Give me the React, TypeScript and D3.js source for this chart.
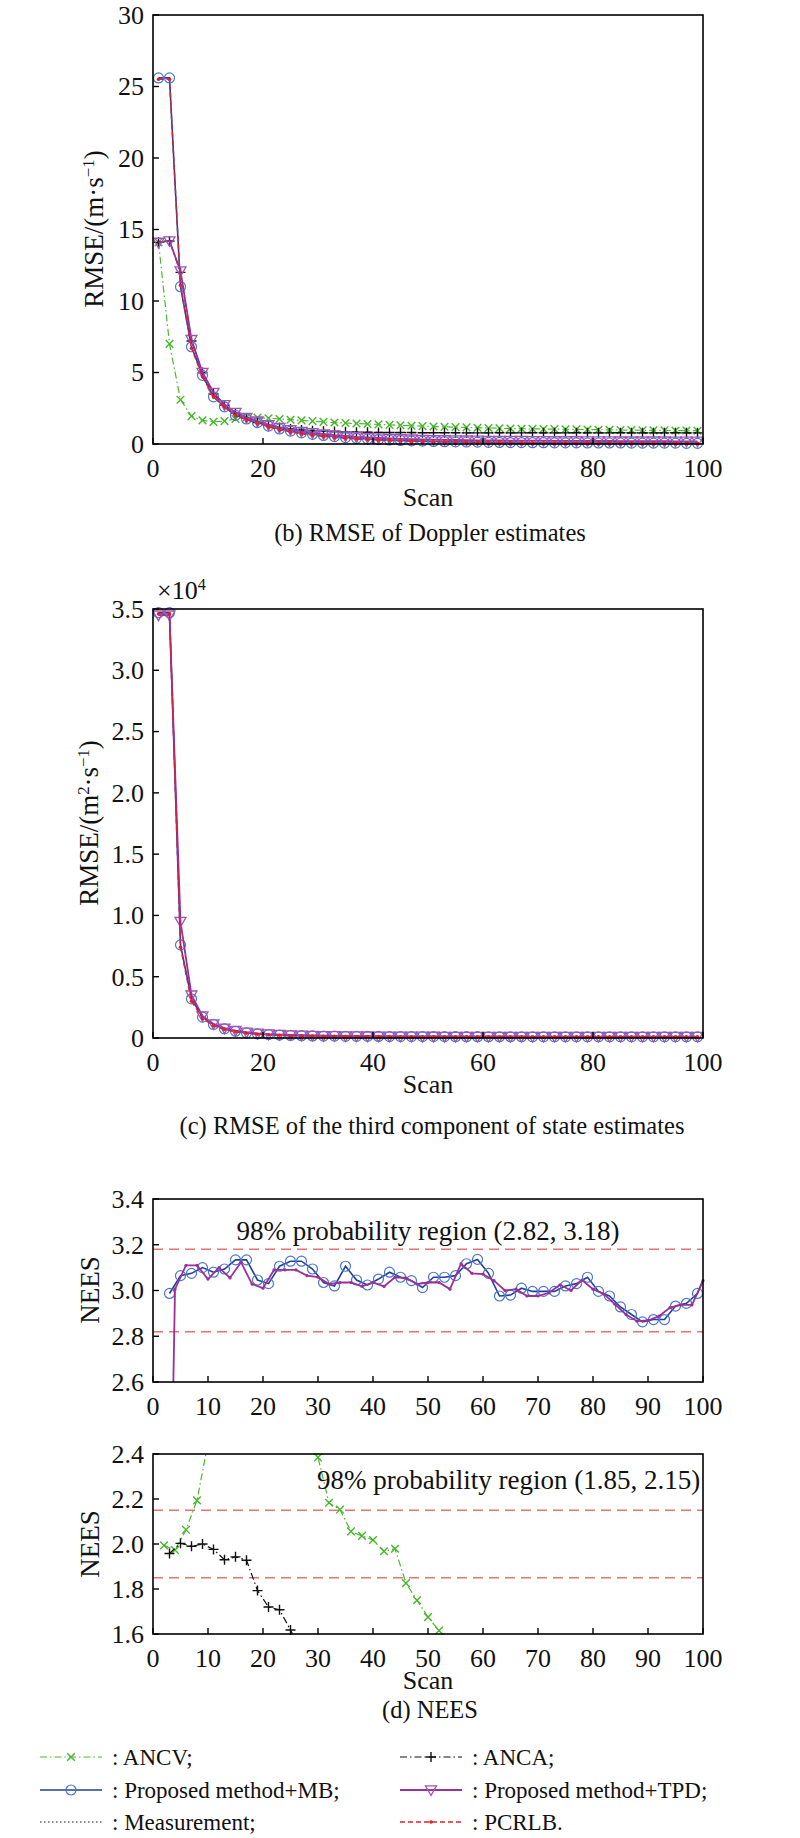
import React, { useEffect, useRef } from 'react';
import * as d3 from 'd3';

// ---- data ----
const scansOdd = d3.range(1, 100, 2); // 1,3,...,99

// (b) RMSE of Doppler estimates
const bANCV = [14.1, 7.0, 3.1, 1.95, 1.65, 1.55, 1.6, 1.75, 1.85, 1.85, 1.8, 1.75, 1.7, 1.65, 1.6, 1.55, 1.5, 1.47, 1.43, 1.4, 1.37, 1.34, 1.31, 1.28, 1.25, 1.22, 1.2, 1.18, 1.16, 1.14, 1.12, 1.1, 1.08, 1.07, 1.06, 1.05, 1.04, 1.03, 1.02, 1.01, 1.0, 0.99, 0.98, 0.97, 0.96, 0.95, 0.95, 0.94, 0.94, 0.93];
const bANCA = [14.1, 14.2, 12.0, 7.2, 5.0, 3.5, 2.7, 2.15, 1.8, 1.5, 1.3, 1.15, 1.05, 0.98, 0.93, 0.9, 0.87, 0.85, 0.83, 0.82, 0.81, 0.8, 0.8, 0.8, 0.79, 0.79, 0.79, 0.79, 0.78, 0.78, 0.78, 0.79, 0.78, 0.78, 0.79, 0.78, 0.78, 0.78, 0.79, 0.78, 0.78, 0.78, 0.79, 0.78, 0.78, 0.78, 0.78, 0.79, 0.78, 0.78];
const bMB = [25.6, 25.6, 11.0, 6.8, 4.8, 3.3, 2.6, 2.0, 1.75, 1.5, 1.25, 1.05, 0.9, 0.78, 0.68, 0.6, 0.52, 0.45, 0.4, 0.35, 0.31, 0.28, 0.25, 0.22, 0.2, 0.18, 0.16, 0.15, 0.14, 0.13, 0.12, 0.11, 0.1, 0.1, 0.09, 0.09, 0.08, 0.08, 0.08, 0.07, 0.07, 0.07, 0.07, 0.06, 0.06, 0.06, 0.06, 0.06, 0.05, 0.05];
const bTPD = [14.1, 14.2, 12.1, 7.3, 5.0, 3.6, 2.75, 2.2, 1.85, 1.6, 1.35, 1.15, 1.0, 0.88, 0.78, 0.7, 0.62, 0.56, 0.5, 0.46, 0.42, 0.39, 0.36, 0.34, 0.32, 0.3, 0.29, 0.28, 0.27, 0.26, 0.25, 0.25, 0.24, 0.24, 0.23, 0.23, 0.22, 0.22, 0.22, 0.21, 0.21, 0.21, 0.2, 0.2, 0.2, 0.2, 0.2, 0.19, 0.19, 0.19];
const bPCRLB = [25.5, 25.5, 11.1, 6.7, 4.7, 3.3, 2.6, 2.0, 1.7, 1.45, 1.2, 1.0, 0.85, 0.72, 0.62, 0.53, 0.46, 0.4, 0.35, 0.31, 0.27, 0.24, 0.22, 0.2, 0.18, 0.16, 0.15, 0.14, 0.13, 0.12, 0.11, 0.1, 0.1, 0.09, 0.09, 0.08, 0.08, 0.08, 0.07, 0.07, 0.07, 0.07, 0.06, 0.06, 0.06, 0.06, 0.05, 0.05, 0.05, 0.05];

// (c) RMSE of the third component (x10^4)
const cMB = [3.47, 3.47, 0.76, 0.32, 0.17, 0.11, 0.075, 0.055, 0.042, 0.034, 0.028, 0.024, 0.021, 0.019, 0.017, 0.016, 0.015, 0.014, 0.0135, 0.013, 0.0125, 0.012, 0.0118, 0.0116, 0.0114, 0.0112, 0.011, 0.0108, 0.0106, 0.0105, 0.0104, 0.0103, 0.0102, 0.0101, 0.01, 0.01, 0.01, 0.01, 0.01, 0.01, 0.01, 0.01, 0.01, 0.01, 0.01, 0.01, 0.01, 0.01, 0.01, 0.01];
const cTPD = [3.45, 3.45, 0.95, 0.35, 0.18, 0.115, 0.08, 0.06, 0.047, 0.038, 0.032, 0.028, 0.025, 0.0225, 0.0205, 0.019, 0.018, 0.017, 0.016, 0.0155, 0.015, 0.0145, 0.014, 0.0138, 0.0135, 0.0133, 0.013, 0.0128, 0.0126, 0.0125, 0.0124, 0.0123, 0.0122, 0.0121, 0.012, 0.012, 0.012, 0.012, 0.012, 0.012, 0.012, 0.012, 0.012, 0.012, 0.012, 0.012, 0.012, 0.012, 0.012, 0.012];
const cPCRLB = [3.46, 3.46, 0.74, 0.3, 0.16, 0.1, 0.07, 0.05, 0.039, 0.031, 0.026, 0.022, 0.019, 0.017, 0.0155, 0.0145, 0.0135, 0.013, 0.0125, 0.012, 0.0115, 0.011, 0.0108, 0.0106, 0.0104, 0.0102, 0.01, 0.01, 0.01, 0.01, 0.01, 0.01, 0.01, 0.01, 0.01, 0.01, 0.01, 0.01, 0.01, 0.01, 0.01, 0.01, 0.01, 0.01, 0.01, 0.01, 0.01, 0.01, 0.01, 0.01];

// (d) NEES, upper
const d1MBScans = [...d3.range(3, 100, 2), 100];
const d1MB = [2.987, 3.065, 3.075, 3.10, 3.08, 3.094, 3.134, 3.134, 3.046, 3.03, 3.106, 3.128, 3.128, 3.094, 3.035, 3.02, 3.106, 3.046, 3.024, 3.05, 3.08, 3.058, 3.043, 3.013, 3.058, 3.058, 3.065, 3.117, 3.136, 3.075, 2.976, 2.98, 3.01, 2.996, 2.996, 2.996, 3.02, 3.03, 3.058, 2.996, 2.976, 2.928, 2.895, 2.863, 2.873, 2.873, 2.932, 2.944, 2.987, 3.046];
const d1TPDScans = d3.range(2, 101, 2);
const d1TPD = [0.3, 3.006, 3.11, 3.11, 3.05, 3.10, 3.055, 3.124, 3.028, 3.01, 3.09, 3.09, 3.09, 3.065, 3.058, 3.028, 3.035, 3.035, 3.018, 3.035, 3.018, 3.058, 3.055, 3.028, 3.035, 3.035, 3.006, 3.117, 3.075, 3.072, 3.043, 3.0, 3.006, 2.976, 2.976, 2.99, 3.025, 3.0, 3.046, 3.006, 2.984, 2.94, 2.895, 2.866, 2.869, 2.888, 2.925, 2.937, 2.937, 3.043];
const d1Region = [2.82, 3.18];

// (d) NEES, lower
const d2ANCVScans = d3.range(2, 55, 2);
const d2ANCV = [1.994, 1.973, 2.063, 2.194, 2.45, 2.7, 2.9, 3.0, 3.0, 2.95, 2.85, 2.7, 2.6, 2.48, 2.385, 2.183, 2.153, 2.056, 2.036, 2.018, 1.968, 1.979, 1.826, 1.75, 1.675, 1.615, 1.55];
const d2ANCAScans = d3.range(3, 28, 2);
const d2ANCA = [1.958, 2.003, 1.99, 2.0, 1.976, 1.93, 1.943, 1.928, 1.793, 1.72, 1.708, 1.618, 1.52];
const d2Region = [1.85, 2.15];

const ticksB = [0, 5, 10, 15, 20, 25, 30];
const ticksC = [0, 0.5, 1.0, 1.5, 2.0, 2.5, 3.0, 3.5];
const ticksD1 = [2.6, 2.8, 3.0, 3.2, 3.4];
const ticksD2 = [1.6, 1.8, 2.0, 2.2, 2.4];
const xTicks20 = [0, 20, 40, 60, 80, 100];
const xTicks10 = [0, 10, 20, 30, 40, 50, 60, 70, 80, 90, 100];

const legendItems = [
  { key: 'ANCV', label: ': ANCV;' },
  { key: 'MB', label: ': Proposed method+MB;' },
  { key: 'MEAS', label: ': Measurement;' },
  { key: 'ANCA', label: ': ANCA;' },
  { key: 'TPD', label: ': Proposed method+TPD;' },
  { key: 'PCRLB', label: ': PCRLB.' },
];

// ---- styles ----
const FONT = '"Liberation Serif", "Times New Roman", serif';
const FS_TITLE = 27;   // axis titles, region notes
const FS_TICK = 26;    // tick labels, "Scan"
const FS_CAP = 24.5;   // sub-figure captions
const FS_LEG = 23;     // legend
const X0 = 153;
const X1 = 703;

const STYLE: Record<string, any> = {
  ANCV: { color: '#4cb82b', width: 1.2, dash: '7,3,1.5,3', marker: 'x', mColor: '#46b52a', size: 3.8 },
  ANCA: { color: '#111', width: 1.2, dash: '7,3,1.5,3', marker: 'plus', mColor: '#111', size: 5 },
  MB: { color: '#1f3f9f', width: 1.6, dash: null, marker: 'circle', mColor: '#4d76c9', size: 5 },
  TPD: { color: '#9b2f9b', width: 1.8, dash: null, marker: 'tri', mColor: '#a054b4', size: 5.5 },
  PCRLB: { color: '#e0202a', width: 1.4, dash: '5,3', marker: 'dot', mColor: '#e0202a', size: 1.8 },
  MEAS: { color: '#222', width: 1.2, dash: '1.5,2.5', marker: null, mColor: '#222', size: 0 },
};

function drawMarker(g: any, type: string | null, cx: number, cy: number, color: string, s: number) {
  if (!type) return;
  if (type === 'circle') {
    g.append('circle').attr('cx', cx).attr('cy', cy).attr('r', s)
      .attr('fill', 'none').attr('stroke', color).attr('stroke-width', 1.2);
  } else if (type === 'dot') {
    g.append('circle').attr('cx', cx).attr('cy', cy).attr('r', s).attr('fill', color);
  } else {
    let d = '';
    if (type === 'x') d = `M${cx - s},${cy - s}L${cx + s},${cy + s}M${cx - s},${cy + s}L${cx + s},${cy - s}`;
    if (type === 'plus') d = `M${cx - s},${cy}L${cx + s},${cy}M${cx},${cy - s}L${cx},${cy + s}`;
    if (type === 'tri') d = `M${cx - s},${cy - s * 0.75}L${cx + s},${cy - s * 0.75}L${cx},${cy + s}Z`;
    g.append('path').attr('d', d).attr('fill', 'none').attr('stroke', color)
      .attr('stroke-width', type === 'tri' ? 1.3 : 1.4);
  }
}

interface SeriesDef { key: string; scans: number[]; values: number[]; markAt?: (s: number) => boolean; markerOverride?: string; }
interface PanelDef {
  id: string; top: number; bottom: number; yDomain: [number, number];
  yTicks: number[]; yFmt: (v: number) => string; xTicks: number[];
  series: SeriesDef[]; region?: number[];
}

function drawPanel(root: any, p: PanelDef) {
  const x = d3.scaleLinear().domain([0, 100]).range([X0, X1]);
  const y = d3.scaleLinear().domain(p.yDomain).range([p.bottom, p.top]);
  const g = root.append('g');
  const clipId = 'clip-' + p.id;
  g.append('clipPath').attr('id', clipId).append('rect')
    .attr('x', X0).attr('y', p.top).attr('width', X1 - X0).attr('height', p.bottom - p.top);

  (p.region || []).forEach((v) => {
    g.append('line').attr('x1', X0).attr('x2', X1).attr('y1', y(v)).attr('y2', y(v))
      .attr('stroke', '#e57373').attr('stroke-width', 1.5).attr('stroke-dasharray', '10,6');
  });

  p.series.forEach((s) => {
    const st = STYLE[s.key];
    const pts: [number, number][] = s.scans.map((sc, i) => [sc, s.values[i]]);
    const line = d3.line<[number, number]>().x((d) => x(d[0])).y((d) => y(d[1]));
    g.append('path').attr('d', line(pts)).attr('fill', 'none')
      .attr('stroke', st.color).attr('stroke-width', st.width)
      .attr('stroke-dasharray', st.dash).attr('clip-path', `url(#${clipId})`);
    const mk = s.markerOverride ?? st.marker;
    pts.filter((d) => (s.markAt ? s.markAt(d[0]) : true))
      .filter((d) => d[1] >= p.yDomain[0] && d[1] <= p.yDomain[1] + 0.001)
      .forEach((d) => drawMarker(g, mk, x(d[0]), y(d[1]), s.markerOverride === 'dot' ? st.color : st.mColor, s.markerOverride === 'dot' ? 1.6 : st.size));
  });

  // frame
  g.append('rect').attr('x', X0).attr('y', p.top).attr('width', X1 - X0).attr('height', p.bottom - p.top)
    .attr('fill', 'none').attr('stroke', '#000').attr('stroke-width', 1.6);

  // ticks (inward) and labels
  p.yTicks.forEach((v) => {
    g.append('line').attr('x1', X0).attr('x2', X0 + 6).attr('y1', y(v)).attr('y2', y(v))
      .attr('stroke', '#000').attr('stroke-width', 1.4);
    g.append('text').attr('x', X0 - 9).attr('y', y(v)).attr('dy', '0.34em')
      .attr('text-anchor', 'end').attr('font-size', FS_TICK).text(p.yFmt(v));
  });
  p.xTicks.forEach((v) => {
    g.append('line').attr('x1', x(v)).attr('x2', x(v)).attr('y1', p.bottom).attr('y2', p.bottom - 6)
      .attr('stroke', '#000').attr('stroke-width', 1.4);
    g.append('text').attr('x', x(v)).attr('y', p.bottom + 33)
      .attr('text-anchor', 'middle').attr('font-size', FS_TICK).text(String(v));
  });
  return { x, y };
}

function yTitle(root: any, cx: number, cy: number, parts: { t: string; sup?: boolean }[]) {
  const t = root.append('text').attr('transform', `translate(${cx},${cy}) rotate(-90)`)
    .attr('text-anchor', 'middle').attr('font-size', FS_TITLE);
  parts.forEach((p) => {
    const ts = t.append('tspan').text(p.t);
    if (p.sup) ts.attr('font-size', FS_TITLE * 0.62).attr('baseline-shift', '55%');
  });
}

function label(root: any, x: number, y: number, text: string, size: number, anchor = 'middle') {
  root.append('text').attr('x', x).attr('y', y).attr('text-anchor', anchor).attr('font-size', size).text(text);
}

const App: React.FC = () => {
  const svgRef = useRef<SVGSVGElement>(null);

  useEffect(() => {
    if (!svgRef.current) return;
    const svg = d3.select(svgRef.current);
    svg.selectAll('*').remove();
    const root = svg.append('g').attr('font-family', FONT).attr('fill', '#111');

    // (b)
    drawPanel(root, {
      id: 'b', top: 15, bottom: 444, yDomain: [0, 30], yTicks: ticksB, yFmt: (v) => String(v), xTicks: xTicks20,
      series: [
        { key: 'ANCV', scans: scansOdd, values: bANCV },
        { key: 'ANCA', scans: scansOdd, values: bANCA },
        { key: 'MB', scans: scansOdd, values: bMB },
        { key: 'TPD', scans: scansOdd, values: bTPD },
        { key: 'PCRLB', scans: scansOdd, values: bPCRLB },
      ],
    });
    yTitle(root, 103, 229, [{ t: 'RMSE/(m·s' }, { t: '−1', sup: true }, { t: ')' }]);
    label(root, 428, 506, 'Scan', FS_TICK);
    label(root, 430, 541, '(b) RMSE of Doppler estimates', FS_CAP);

    // (c)
    drawPanel(root, {
      id: 'c', top: 609, bottom: 1038, yDomain: [0, 3.5], yTicks: ticksC, yFmt: (v) => (v === 0 ? '0' : v.toFixed(1)), xTicks: xTicks20,
      series: [
        { key: 'MB', scans: scansOdd, values: cMB },
        { key: 'TPD', scans: scansOdd, values: cTPD },
        { key: 'PCRLB', scans: scansOdd, values: cPCRLB },
      ],
    });
    const mult = root.append('text').attr('x', 157).attr('y', 599).attr('font-size', FS_TICK);
    mult.append('tspan').text('×10');
    mult.append('tspan').attr('font-size', FS_TICK * 0.62).attr('baseline-shift', '55%').text('4');
    yTitle(root, 98, 823, [{ t: 'RMSE/(m' }, { t: '2', sup: true }, { t: '·s' }, { t: '−1', sup: true }, { t: ')' }]);
    label(root, 428, 1093, 'Scan', FS_TICK);
    label(root, 432, 1134, '(c) RMSE of the third component of state estimates', FS_CAP);

    // (d) upper
    const d1 = drawPanel(root, {
      id: 'd1', top: 1199, bottom: 1382, yDomain: [2.6, 3.4], yTicks: ticksD1, yFmt: (v) => v.toFixed(1), xTicks: xTicks10,
      region: d1Region,
      series: [
        { key: 'MB', scans: d1MBScans, values: d1MB, markAt: (s) => s % 2 === 1 },
        { key: 'TPD', scans: d1TPDScans, values: d1TPD, markerOverride: 'dot' },
      ],
    });
    label(root, d1.x(50), 1240, `98% probability region (${d1Region[0].toFixed(2)}, ${d1Region[1].toFixed(2)})`, FS_TITLE);
    yTitle(root, 99, 1290, [{ t: 'NEES' }]);

    // (d) lower
    const d2 = drawPanel(root, {
      id: 'd2', top: 1454, bottom: 1634, yDomain: [1.6, 2.4], yTicks: ticksD2, yFmt: (v) => v.toFixed(1), xTicks: xTicks10,
      region: d2Region,
      series: [
        { key: 'ANCV', scans: d2ANCVScans, values: d2ANCV },
        { key: 'ANCA', scans: d2ANCAScans, values: d2ANCA },
      ],
    });
    label(root, d2.x(99.5), 1489, `98% probability region (${d2Region[0].toFixed(2)}, ${d2Region[1].toFixed(2)})`, FS_TITLE, 'end');
    yTitle(root, 99, 1544, [{ t: 'NEES' }]);
    label(root, 428, 1689, 'Scan', FS_TICK);
    label(root, 430, 1718, '(d) NEES', FS_CAP);

    // legend
    const colX = [40, 400];
    const rowY = [1757, 1790, 1822];
    legendItems.forEach((it, i) => {
      const st = STYLE[it.key];
      const lx = colX[Math.floor(i / 3)];
      const ly = rowY[i % 3];
      root.append('line').attr('x1', lx).attr('x2', lx + 62).attr('y1', ly).attr('y2', ly)
        .attr('stroke', st.color).attr('stroke-width', st.width).attr('stroke-dasharray', st.dash);
      drawMarker(root, st.marker, lx + 31, ly, st.mColor, st.size);
      label(root, lx + 72, ly + 8, it.label, FS_LEG, 'start');
    });
  }, []);

  return (
    <svg ref={svgRef} width={800} height={1838}
      style={{ position: 'absolute', left: 0, top: 0, background: '#fff' }} />
  );
};

export default App;
